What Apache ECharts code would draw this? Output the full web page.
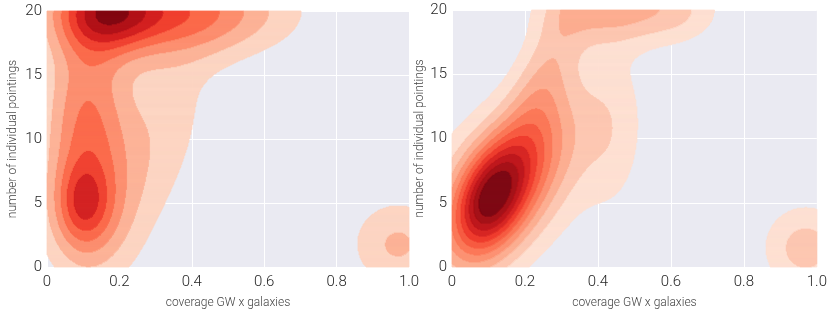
<!DOCTYPE html>
<html><head><meta charset="utf-8">
<script src="https://cdn.jsdelivr.net/npm/echarts@6/dist/echarts.min.js"></script>
<style>html,body{margin:0;padding:0;background:#fff}#c{width:830px;height:314px}</style>
</head><body><div id="c"></div>
<script>
// ---- tick labels ----
const xTickLabels = ['0', '0.2', '0.4', '0.6', '0.8', '1.0'];
const yTickLabels = ['0', '5', '10', '15', '20'];

// ---- left panel: density components (x centre, y centre, spread x, spread y, tilt, height in contour steps) ----
const leftCx  = [0.17, 0.38, 0.11, 0.10, 0.11, 0.30, 0.97];
const leftCy  = [20.0, 20.0, 11.0, 4.9, 4.0, 10.0, 1.8];
const leftSx  = [0.10, 0.19, 0.08, 0.05, 0.09, 0.11, 0.09];
const leftSy  = [2.2, 2.4, 6.0, 2.2, 3.5, 6.0, 2.4];
const leftRho = [0, 0, 0, 0, 0, 0.5, 0];
const leftH   = [5.2, 4.2, 4.0, 2.6, 1.5, 1.6, 2.16];
const leftBands = 9;      // contour bands (lowest left unfilled)

// ---- right panel ----
const rightCx  = [0.10, 0.13, 0.20, 0.25, 0.44, 0.44, 0.63, 0.97];
const rightCy  = [5.3, 6.0, 7.5, 14.5, 10.5, 20.3, 20.0, 1.5];
const rightSx  = [0.07, 0.20, 0.10, 0.08, 0.06, 0.12, 0.08, 0.081];
const rightSy  = [3.0, 5.5, 4.0, 5.0, 4.5, 2.0, 1.8, 2.3];
const rightRho = [0.35, 0.55, 0.55, 0.7, 0, 0, 0, 0];
const rightH   = [7.5, 2.5, 3.2, 2.3, 1.1, 3.4, 1.4, 2.5];
const rightBands = 12;

const X_MIN = 0, X_MAX = 1, Y_MIN = 0, Y_MAX = 20;

// Reds colormap anchors
const REDS = ['#fff5f0','#fee0d2','#fcbba1','#fc9272','#fb6a4a','#ef3b2c','#cb181d','#a50f15','#67000d'];
function hex2rgb(h){return [parseInt(h.substr(1,2),16),parseInt(h.substr(3,2),16),parseInt(h.substr(5,2),16)];}
function reds(t){
  t = Math.max(0, Math.min(1, t));
  const p = t * (REDS.length - 1), i = Math.min(REDS.length - 2, Math.floor(p)), f = p - i;
  const a = hex2rgb(REDS[i]), b = hex2rgb(REDS[i+1]);
  return 'rgb(' + a.map((v,k)=>Math.round(v + (b[k]-v)*f)).join(',') + ')';
}
function palette(n){ const out=[]; for(let k=0;k<n;k++) out.push(reds((k+0.5)/n)); return out; }

function density(c, x, y){
  let s = 0;
  for (let i = 0; i < c.cx.length; i++){
    const u = (x - c.cx[i]) / c.sx[i], v = (y - c.cy[i]) / c.sy[i], r = c.rho[i];
    const q = (u*u - 2*r*u*v + v*v) / (1 - r*r);
    s += c.h[i] * Math.exp(-0.5 * q);
  }
  return s;
}
function buildCells(c, nBands, nx, ny){
  const cells = [];
  for (let j = 0; j < ny; j++){
    const y = Y_MIN + (j + 0.5) / ny * (Y_MAX - Y_MIN);
    const y0 = Y_MIN + j / ny * (Y_MAX - Y_MIN), y1 = Y_MIN + (j + 1) / ny * (Y_MAX - Y_MIN);
    let start = 0, cur = -1;
    for (let i = 0; i <= nx; i++){
      let b = -2;
      if (i < nx){
        const x = X_MIN + (i + 0.5) / nx * (X_MAX - X_MIN);
        b = Math.min(nBands - 1, Math.floor(density(c, x, y)));
      }
      if (b !== cur){
        if (cur > 0) cells.push([X_MIN + start / nx * (X_MAX - X_MIN), X_MIN + i / nx * (X_MAX - X_MIN), y0, y1, cur]);
        cur = b; start = i;
      }
    }
  }
  return cells;
}

const leftComp = {cx:leftCx, cy:leftCy, sx:leftSx, sy:leftSy, rho:leftRho, h:leftH};
const rightComp = {cx:rightCx, cy:rightCy, sx:rightSx, sy:rightSy, rho:rightRho, h:rightH};
const leftCells = buildCells(leftComp, leftBands, 362, 257);
const rightCells = buildCells(rightComp, rightBands, 367, 258);
const palettes = [palette(leftBands), palette(rightBands)];

function renderItem(params, api){
  const x0 = api.value(0), x1 = api.value(1), y0 = api.value(2), y1 = api.value(3), b = api.value(4);
  const p0 = api.coord([x0, y1]), p1 = api.coord([x1, y0]);
  const col = palettes[params.seriesIndex][b];
  return {type:'rect', shape:{x:p0[0], y:p0[1], width:p1[0]-p0[0], height:p1[1]-p0[1]},
          style:{fill:col, stroke:col, lineWidth:0.8}};
}

const FONT = 'Roboto';
function xAxis(idx){
  return {type:'value', gridIndex:idx, min:X_MIN, max:X_MAX, interval:0.2,
    axisLine:{show:false}, axisTick:{show:false},
    splitLine:{show:true, lineStyle:{color:'#ffffff', width:1}},
    axisLabel:{color:'#262626', fontSize:15, fontFamily:FONT, fontWeight:300, margin:8,
      formatter:(v)=>xTickLabels[Math.round(v/0.2)]},
    name:'coverage GW x galaxies', nameLocation:'middle', nameGap:30,
    nameTextStyle:{color:'#444', fontSize:12, fontFamily:FONT, fontWeight:300}};
}
function yAxis(idx, gap){
  return {type:'value', gridIndex:idx, min:Y_MIN, max:Y_MAX, interval:5,
    axisLine:{show:false}, axisTick:{show:false},
    splitLine:{show:true, lineStyle:{color:'#ffffff', width:1}},
    axisLabel:{color:'#262626', fontSize:15, fontFamily:FONT, fontWeight:300, margin:5,
      formatter:(v)=>yTickLabels[Math.round(v/5)]},
    name:'number of individual pointings', nameLocation:'middle', nameGap:gap,
    nameTextStyle:{color:'#444', fontSize:12, fontFamily:FONT, fontWeight:300}};
}

const chart = echarts.init(document.getElementById('c'), null, {renderer:'canvas'});
chart.setOption({
  animation:false,
  grid:[
    {left:47, top:11, width:362, height:257, show:true, backgroundColor:'#eaeaf2', borderWidth:0},
    {left:452, top:10, width:367, height:258, show:true, backgroundColor:'#eaeaf2', borderWidth:0}
  ],
  xAxis:[xAxis(0), xAxis(1)],
  yAxis:[yAxis(0, 28), yAxis(1, 24)],
  series:[
    {type:'custom', xAxisIndex:0, yAxisIndex:0, data:leftCells, renderItem, encode:{x:[0,1], y:[2,3]}, silent:true, progressive:0},
    {type:'custom', xAxisIndex:1, yAxisIndex:1, data:rightCells, renderItem, encode:{x:[0,1], y:[2,3]}, silent:true, progressive:0}
  ]
});
</script></body></html>
